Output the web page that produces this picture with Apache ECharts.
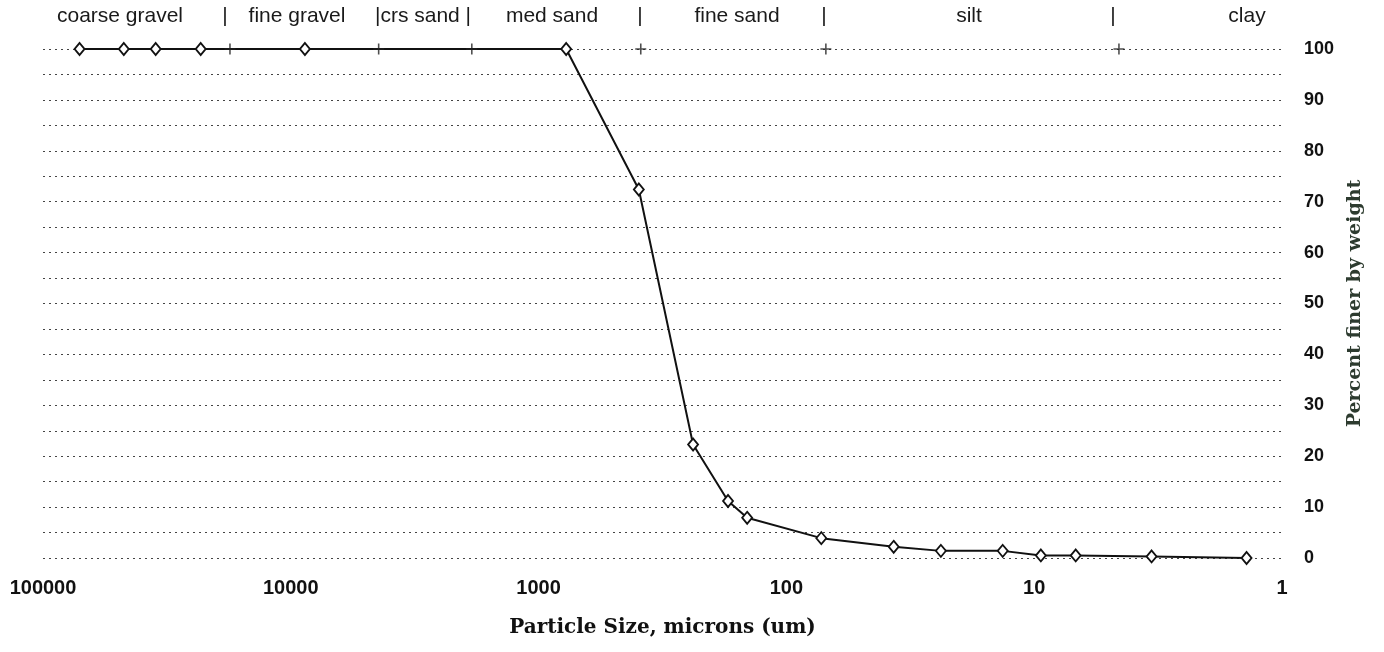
<!DOCTYPE html>
<html>
<head>
<meta charset="utf-8">
<script src="https://cdn.jsdelivr.net/npm/echarts@6/dist/echarts.min.js"></script>
<style>
html,body{margin:0;padding:0;background:#fff;}
#chart{width:1384px;height:652px;}
</style>
</head>
<body>
<div id="chart"></div>
<script>
// ---- data ----
const sizeMicrons = [71200, 47200, 35100, 23100, 8770, 774, 394, 238, 172, 144, 72.3, 36.9, 23.8, 13.4, 9.4, 6.8, 3.36, 1.39];
const percentFiner = [100, 100, 100, 100, 100, 100, 72.4, 22.3, 11.2, 7.9, 3.9, 2.2, 1.4, 1.4, 0.5, 0.5, 0.3, 0];
const boundaryMarks = [17600, 4420, 1860, 387, 69.3, 4.55];
const zoneLabels = ['coarse gravel', '|', 'fine gravel', '|crs sand |', 'med sand', '|', 'fine sand', '|', 'silt', '|', 'clay'];
const xAxisTitle = 'Particle Size, microns (um)';
const yAxisTitle = 'Percent finer by weight';

// ---- layout ----
const zoneLabelCenters = [120, 225, 297, 423, 552, 640, 737, 824, 969, 1113, 1247];

const chart = echarts.init(document.getElementById('chart'), null, {renderer: 'canvas'});

const curve = sizeMicrons.map((s, i) => [s, percentFiner[i]]);
const marks = boundaryMarks.map(s => [s, 100]);

const option = {
  backgroundColor: '#ffffff',
  animation: false,
  grid: {left: 43, right: 102, top: 49, bottom: 94, containLabel: false},
  xAxis: {
    type: 'log',
    logBase: 10,
    min: 1,
    max: 100000,
    inverse: true,
    axisLine: {show: false},
    axisTick: {show: false},
    splitLine: {show: false},
    minorTick: {show: false},
    axisLabel: {
      margin: 20,
      fontFamily: 'Liberation Sans',
      fontWeight: 'bold',
      fontSize: 20,
      color: '#111',
      formatter: v => String(Math.round(v))
    },
    name: xAxisTitle,
    nameLocation: 'middle',
    nameGap: 60,
    nameTextStyle: {fontFamily: 'DejaVu Serif', fontWeight: 'bold', fontSize: 20, color: '#111'}
  },
  yAxis: {
    type: 'value',
    position: 'right',
    min: 0,
    max: 100,
    interval: 5,
    axisLine: {show: false},
    axisTick: {show: false},
    axisLabel: {
      margin: 22,
      fontFamily: 'Liberation Sans',
      fontWeight: 'bold',
      fontSize: 18,
      color: '#111',
      formatter: v => (v % 10 === 0 ? String(v) : '')
    },
    splitLine: {show: true, lineStyle: {color: '#444', width: 1, type: [2, 4]}},
    name: yAxisTitle,
    nameLocation: 'middle',
    nameRotate: 90,
    nameGap: 64,
    nameTextStyle: {fontFamily: 'DejaVu Serif', fontWeight: 'bold', fontSize: 19, color: '#2d3b2f'}
  },
  series: [
    {
      type: 'line',
      data: curve,
      symbol: 'diamond',
      symbolSize: [10, 12],
      showAllSymbol: true,
      lineStyle: {color: '#111', width: 2},
      itemStyle: {color: '#fff', borderColor: '#111', borderWidth: 1.8},
      z: 3
    },
    {
      type: 'scatter',
      data: marks,
      symbol: 'path://M4.5,0h1.5v4.5h4.5v1.5h-4.5v4.5h-1.5v-4.5h-4.5v-1.5h4.5z',
      symbolSize: 11,
      itemStyle: {color: '#222'},
      z: 4
    }
  ],
  graphic: zoneLabels.map((t, i) => ({
    type: 'text',
    x: zoneLabelCenters[i],
    y: 16,
    style: {
      text: t,
      fontFamily: 'Liberation Sans',
      fontSize: 21,
      fill: '#1a1a1a',
      align: 'center',
      verticalAlign: 'middle'
    }
  }))
};

chart.setOption(option);
</script>
</body>
</html>
